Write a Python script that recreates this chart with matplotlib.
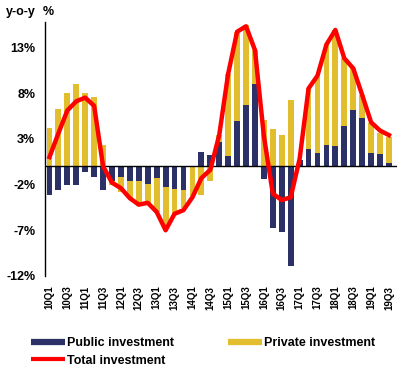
import matplotlib
matplotlib.use("Agg")
import matplotlib.pyplot as plt
from matplotlib.lines import Line2D
import numpy as np

plt.rcParams['font.family'] = ['Liberation Sans', 'DejaVu Sans']
plt.rcParams['font.weight'] = 'bold'

quarters = ["10Q1", "10Q2", "10Q3", "10Q4", "11Q1", "11Q2", "11Q3", "11Q4",
            "12Q1", "12Q2", "12Q3", "12Q4", "13Q1", "13Q2", "13Q3", "13Q4",
            "14Q1", "14Q2", "14Q3", "14Q4", "15Q1", "15Q2", "15Q3", "15Q4",
            "16Q1", "16Q2", "16Q3", "16Q4", "17Q1", "17Q2", "17Q3", "17Q4",
            "18Q1", "18Q2", "18Q3", "18Q4", "19Q1", "19Q2", "19Q3"]

public = [-3.1, -2.6, -2.1, -2.0, -0.6, -1.2, -2.6, -1.6,
          -1.2, -1.6, -1.6, -1.9, -1.3, -2.3, -2.45, -2.6,
          0.0, 1.6, 1.2, 2.7, 1.1, 4.9, 6.7, 9.0,
          -1.35, -6.7, -7.2, -10.9, 0.7, 1.9, 1.5, 2.3,
          2.2, 4.4, 6.1, 5.3, 1.5, 1.3, 0.4]

private = [4.2, 6.3, 8.0, 9.0, 8.0, 7.6, 2.3, -0.4,
           -1.6, -1.9, -2.7, -2.2, -3.7, -4.4, -2.75, -2.0,
           -3.2, -3.1, -1.6, 0.7, 9.0, 9.8, 8.7, 3.7,
           5.0, 4.1, 3.4, 7.2, 0.0, 6.6, 8.3, 11.0,
           12.7, 7.4, 4.6, 2.5, 3.25, 2.35, 2.8]

total = [1.0, 3.6, 6.1, 7.1, 7.5, 6.6, 0.0, -1.8,
         -2.4, -3.5, -4.2, -4.0, -5.0, -7.0, -5.2, -4.8,
         -3.4, -1.3, -0.4, 3.4, 10.1, 14.7, 15.3, 12.7,
         3.3, -3.0, -3.7, -3.4, 0.8, 8.5, 9.9, 13.3,
         14.9, 11.8, 10.7, 7.8, 4.8, 3.9, 3.4]

yticks = [-12, -7, -2, 3, 8, 13]

navy = "#2B3166"
gold = "#E2BE2E"
red = "#FF0000"

pub = np.array(public)
pri = np.array(private)
x = np.arange(len(quarters))

# stacking: positives upon positives, negatives below negatives
pri_bottom = np.where(pri >= 0, np.maximum(pub, 0), np.minimum(pub, 0))

fig = plt.figure(figsize=(4.02, 3.83), dpi=100)
ax = fig.add_axes([45/402, 1-276/383, (397-45)/402, (276-21.7)/383])

w = 0.65
ax.bar(x, pub, width=w, color=navy, zorder=2)
ax.bar(x, pri, width=w, bottom=pri_bottom, color=gold, zorder=2)
ax.plot(x, total, color=red, lw=3.2, zorder=3, solid_joinstyle='round')
ax.axhline(0, color='black', lw=1.0, zorder=2.5)

ax.set_xlim(-0.5, len(quarters) - 0.5 + 0.4)
ax.set_ylim(-12, 15.8)
ax.set_yticks(yticks)
ax.set_yticklabels([f"{v}%" for v in yticks], fontsize=9, fontweight='bold')
ax.set_xticks(x[::2])
ax.set_xticklabels(quarters[::2], rotation=90, fontsize=7, fontweight='bold')
ax.tick_params(axis='both', length=0)
ax.tick_params(axis='x', pad=7)
ax.tick_params(axis='y', pad=7)
for s in ['top', 'right', 'bottom']:
    ax.spines[s].set_visible(False)
ax.spines['left'].set_linewidth(1.0)

fig.text(6/402, 1-12/383, "y-o-y", fontsize=9, fontweight='bold',
         va='center', ha='left')
fig.text(43/402, 1-12/383, "%", fontsize=9, fontweight='bold',
         va='center', ha='left')

handles = [Line2D([0], [0], color=navy, lw=4.5, solid_capstyle='butt'),
           Line2D([0], [0], color=red, lw=3, solid_capstyle='butt'),
           Line2D([0], [0], color=gold, lw=4.5, solid_capstyle='butt')]
labels = ["Public investment", "Total investment", "Private investment"]
fig.legend(handles, labels, loc='upper left',
           bbox_to_anchor=(31/402, 1-337/383), ncol=2, frameon=False,
           prop={'weight': 'bold', 'size': 9}, handlelength=2.7,
           handletextpad=0.2, columnspacing=4.3, labelspacing=0.45,
           borderpad=0, borderaxespad=0)

fig.savefig("out.png", dpi=100)
